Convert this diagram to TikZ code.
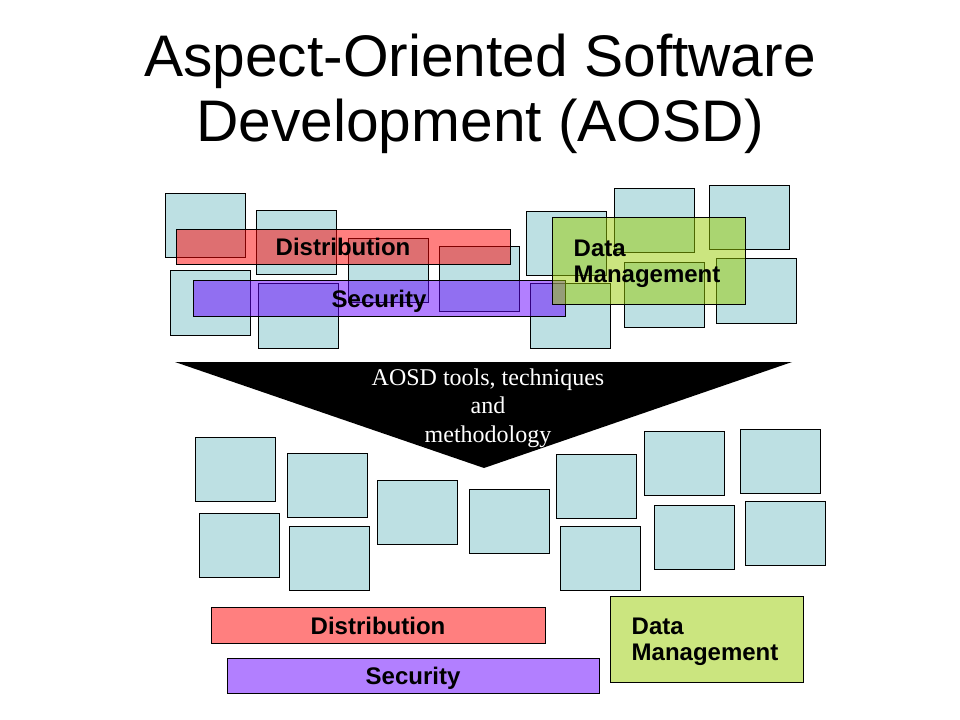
\documentclass[tikz,border=0pt]{standalone}
\usepackage{fontspec}
\setmainfont{Liberation Serif}
\setsansfont{Liberation Sans}
\usetikzlibrary{positioning}
\definecolor{modblue}{RGB}{189,224,227}
\definecolor{distred}{RGB}{255,0,0}
\definecolor{secviolet}{RGB}{102,0,255}
\definecolor{dmgreen}{RGB}{153,204,0}
\tikzstyle{module} = [rectangle, draw=black, fill=modblue, minimum width=60pt, minimum height=48pt, inner sep=0pt, line width=0.75pt]
\tikzstyle{aspect} = [rectangle, draw=black, inner sep=0pt, line width=0.75pt, fill opacity=0.5, text opacity=1, text depth=0pt, font=\sffamily\bfseries\fontsize{18}{19.5}\selectfont]
\tikzstyle{dist} = [aspect, fill=distred, minimum width=250.5pt, minimum height=26.5pt]
\tikzstyle{secu} = [aspect, fill=secviolet, minimum width=279pt, minimum height=26.5pt]
\tikzstyle{datamgmt} = [aspect, fill=dmgreen, align=left, text width=113pt, inner xsep=16pt, text depth=19.5pt, minimum height=65pt]
\begin{document}
\begin{tikzpicture}[x=0.75pt, y=-0.75pt]
    \fill[white] (0,0) rectangle (960,720);
    \useasboundingbox (0,0) rectangle (960,720);

    %标题
    \node (title) [anchor=north, inner sep=0pt, align=center, font=\sffamily\fontsize{44}{48.75}\selectfont] at (480,34) {Aspect-Oriented Software\\Development (AOSD)};

    %上方: 交织的模块
    \node (ta) [module] at (205,226) {};
    \node (tb) [module] at (296,243) {};
    \node (tc) [module] at (210,303) {};
    \node (td) [module] at (298,316) {};
    \node (te) [module] at (388,271) {};
    \node (tf) [module] at (479,279) {};
    \node (tg) [module] at (566,244) {};
    \node (th) [module] at (570,316) {};
    \node (ti) [module] at (654,221) {};
    \node (tj) [module] at (749,218) {};
    \node (tk) [module] at (664,295) {};
    \node (tl) [module] at (756,291) {};

    %上方: 横切关注点
    \node (tdist) [dist] at (343,247) {Distribution};
    \node (tsec) [secu] at (379,298.5) {Security};
    \node (tdm) [datamgmt] at (649,261) {Data\\Management};

    %三角形
    \coordinate (triL) at (175,362);
    \coordinate (triR) at (792,362);
    \coordinate (triTip) at (484,468);
    \fill[black] (triL) -- (triR) -- (triTip) -- cycle;
    \node (tools) [text=white, align=center, font=\fontsize{18}{21.4}\selectfont] at (488,408) {AOSD tools, techniques\\and\\methodology};

    %下方: 分离后的模块
    \node (ba) [module] at (235.5,469) {};
    \node (bb) [module] at (327.5,485) {};
    \node (bc) [module] at (239.5,545) {};
    \node (bd) [module] at (329.5,558) {};
    \node (be) [module] at (417.5,512) {};
    \node (bf) [module] at (509.5,521) {};
    \node (bg) [module] at (596.5,486) {};
    \node (bh) [module] at (600.5,558) {};
    \node (bi) [module] at (684.5,463) {};
    \node (bj) [module] at (780,461) {};
    \node (bk) [module] at (694,537) {};
    \node (bl) [module] at (785,533) {};

    %下方: 关注点
    \node (bdist) [dist] at (378,625.5) {Distribution};
    \node (bsec) [secu] at (413,676) {Security};
    \node (bdm) [datamgmt] at (707,639.5) {Data\\Management};
\end{tikzpicture}
\end{document}
